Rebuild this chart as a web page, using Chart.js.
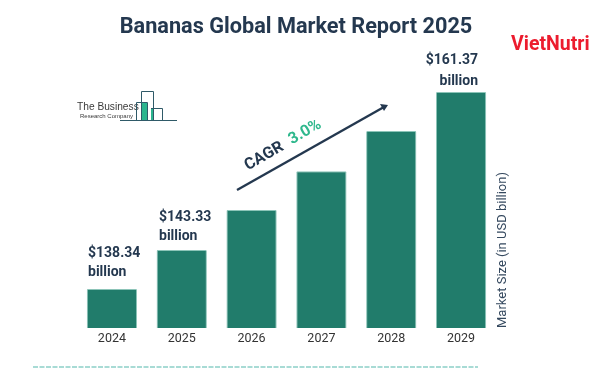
<!DOCTYPE html>
<html><head><meta charset="utf-8">
<style>html,body{margin:0;padding:0;background:#fff}#w{position:relative;width:600px;height:375px}</style>
<script src="https://cdn.jsdelivr.net/npm/chart.js@4"></script>
</head><body><div id="w"><canvas id="c" width="600" height="375"></canvas></div>
<script>
const years = ['2024','2025','2026','2027','2028','2029'];
// The reference's bars rise in equal steps
const marketSize = [138.34,142.9,147.58,152.1,156.8,161.37];
const barLabels = {0:['$138.34','billion'],1:['$143.33','billion'],5:['$161.37','billion']};
const titleText = 'Bananas Global Market Report 2025';
const yTitle = 'Market Size (in USD billion)';
const brand = 'VietNutri';
const cagrLabel = 'CAGR', cagrValue = '3.0%';
const logoLines = ['The Business','Research Company'];

const NAVY='#24384f', GREEN='#217c6b', F='Roboto, sans-serif';
const decor = {
  id:'decor',
  afterDatasetsDraw(ch){
    const g=ch.ctx, m=ch.getDatasetMeta(0).data;
    g.save();
    g.textBaseline='middle';
    // title
    g.textAlign='center'; g.fillStyle=NAVY; g.font='bold 21.7px '+F;
    g.fillText(titleText,296,28);
    // value labels
    g.font='bold 14px '+F;
    const place={0:[88,-35,-16,'left',88],1:[159,-32,-13,'left',159],5:[478,-32,-11,'right',478]};
    for(const i in barLabels){
      const p=place[i], top=m[i].y;
      g.textAlign=p[3];
      g.fillText(barLabels[i][0],p[0],top+p[1]);
      g.fillText(barLabels[i][1],p[4],top+p[2]);
    }
    // y axis caption, reading bottom-to-top
    g.save(); g.translate(503,ch.scales.y.bottom); g.rotate(-Math.PI/2);
    g.textAlign='left'; g.fillStyle='#34485e'; g.font='13px '+F; g.fillText(yTitle,0,0);
    g.restore();
    // brand
    g.textAlign='left'; g.fillStyle='#ec1c2e'; g.font='bold 19.5px '+F;
    g.fillText(brand,511,45);
    // arrow
    g.strokeStyle=NAVY; g.lineWidth=2.4; g.beginPath(); g.moveTo(237,190); g.lineTo(384,107); g.stroke();
    g.fillStyle=NAVY; g.beginPath(); g.moveTo(388,105); g.lineTo(380,104); g.lineTo(384,111); g.closePath(); g.fill();
    // CAGR
    g.save(); g.translate(246,167); g.rotate(-30*Math.PI/180);
    g.textAlign='left'; g.fillStyle=NAVY; g.font='bold 16px '+F; g.fillText(cagrLabel,0,0);
    g.restore();
    g.save(); g.translate(290,141); g.rotate(-30*Math.PI/180);
    g.textAlign='left'; g.fillStyle='#2fb88d'; g.font='bold 16px '+F; g.fillText(cagrValue,0,0);
    g.restore();
    // logo
    g.fillStyle='#3a3a3a'; g.font='10.2px "Liberation Sans", sans-serif'; g.textAlign='left';
    g.fillText(logoLines[0],77,107);
    g.font='6px "Liberation Sans", sans-serif'; g.fillText(logoLines[1],80,116);
    g.fillStyle='#2cb58e'; g.fillRect(142,102,5,18); g.fillRect(151,109,3,11);
    g.strokeStyle='#2f5a68'; g.lineWidth=1; g.beginPath();
    g.moveTo(120,120.5); g.lineTo(177,120.5);
    g.moveTo(136.5,120); g.lineTo(136.5,102.5); g.lineTo(147.5,102.5); g.lineTo(147.5,120);
    g.moveTo(141.5,120); g.lineTo(141.5,91.5); g.lineTo(153.5,91.5); g.lineTo(153.5,120);
    g.moveTo(151,108.5); g.lineTo(162.5,108.5); g.lineTo(162.5,120);
    g.stroke();
    // footer dashes
    g.strokeStyle='#8ccfc8'; g.lineWidth=1.5; g.setLineDash([5,1.5]); g.beginPath();
    g.moveTo(33,367); g.lineTo(478,367); g.stroke();
    g.restore();
  }
};
new Chart(document.getElementById('c'),{
  type:'bar',
  data:{labels:years,datasets:[{data:marketSize,backgroundColor:GREEN,borderColor:'#8cc4b8',borderWidth:1,borderRadius:1,categoryPercentage:1,barPercentage:0.72}]},
  plugins:[decor],
  options:{
    responsive:false,animation:false,
    layout:{padding:{left:77,right:104,top:92,bottom:26}},
    plugins:{legend:{display:false},tooltip:{enabled:false},title:{display:false}},
    scales:{
      x:{grid:{display:false,drawTicks:false,tickLength:0},border:{display:false},ticks:{color:'#333',font:{family:F,size:12.5},padding:3,maxRotation:0}},
      y:{display:false,min:133.78,max:161.37}
    }
  }
});
</script></body></html>
